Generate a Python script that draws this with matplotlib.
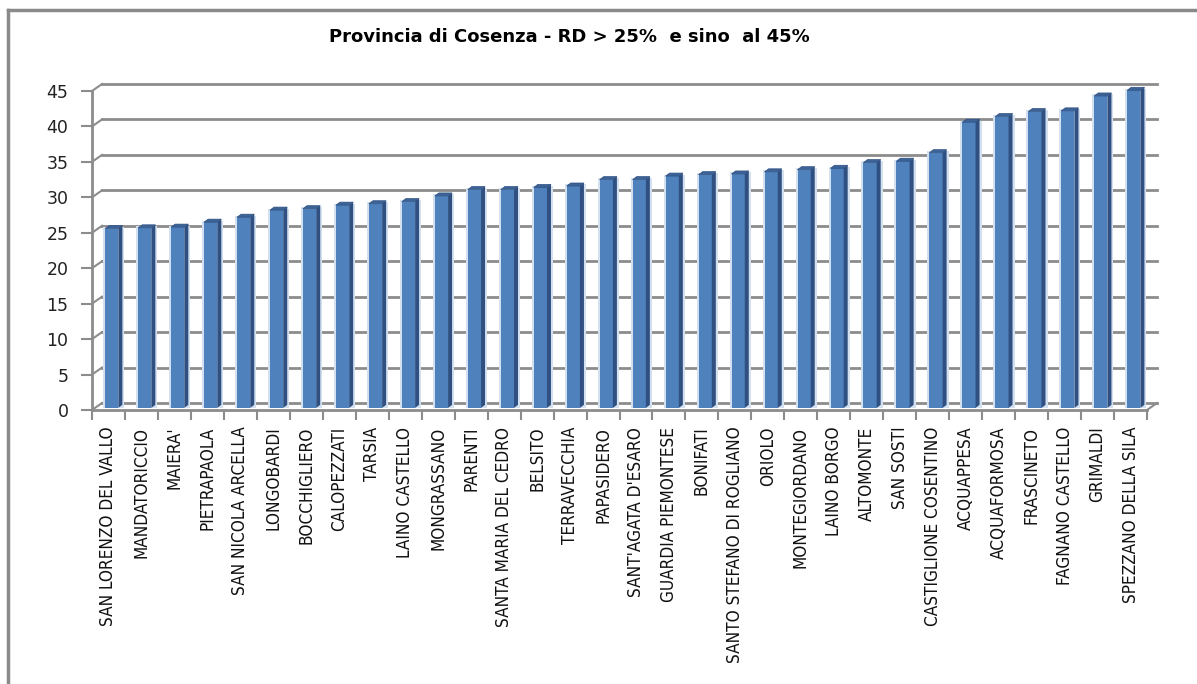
import matplotlib
matplotlib.use("Agg")
import matplotlib.pyplot as plt
from matplotlib import font_manager
from matplotlib.collections import PolyCollection
from matplotlib.lines import Line2D
import numpy as np

comuni = ["SAN LORENZO DEL VALLO", "MANDATORICCIO", "MAIERA'", "PIETRAPAOLA",
          "SAN NICOLA ARCELLA", "LONGOBARDI", "BOCCHIGLIERO", "CALOPEZZATI",
          "TARSIA", "LAINO CASTELLO", "MONGRASSANO", "PARENTI",
          "SANTA MARIA DEL CEDRO", "BELSITO", "TERRAVECCHIA", "PAPASIDERO",
          "SANT'AGATA D'ESARO", "GUARDIA PIEMONTESE", "BONIFATI",
          "SANTO STEFANO DI ROGLIANO", "ORIOLO", "MONTEGIORDANO", "LAINO BORGO",
          "ALTOMONTE", "SAN SOSTI", "CASTIGLIONE COSENTINO", "ACQUAPPESA",
          "ACQUAFORMOSA", "FRASCINETO", "FAGNANO CASTELLO", "GRIMALDI",
          "SPEZZANO DELLA SILA"]
rd = [25.3, 25.4, 25.5, 26.2, 26.9, 27.9, 28.1, 28.6, 28.8, 29.1, 29.9, 30.8,
      30.8, 31.1, 31.3, 32.2, 32.2, 32.7, 32.9, 33.0, 33.3, 33.6, 33.8, 34.6,
      34.8, 36.0, 40.3, 41.1, 41.8, 41.9, 44.0, 44.8]
yticks = [0, 5, 10, 15, 20, 25, 30, 35, 40, 45]
title = "Provincia di Cosenza - RD > 25%  e sino  al 45%"

fl = font_manager.fontManager.ttflist
avail = {f.name for f in fl}
cond = any(f.name == "DejaVu Sans" and f.stretch == "condensed" for f in fl)
if "Liberation Sans Narrow" in avail:
    lab_kw = dict(family="Liberation Sans Narrow", fontsize=13)
elif cond:
    lab_kw = dict(family="DejaVu Sans", stretch="condensed", fontsize=12.3)
else:
    lab_kw = dict(family="DejaVu Sans", fontsize=11.3)

W, H = 1197, 684
fig = plt.figure(figsize=(W / 100, H / 100), dpi=100)
fig.patch.set_facecolor("white")

# front plane of the axes (pixels)
L, R, B, T = 92, 1147, 410, 91
ax = fig.add_axes([L / W, 1 - B / H, (R - L) / W, (B - T) / H])
n = len(rd)
ax.set_xlim(-0.5, n - 0.5)
ax.set_ylim(0, 45)
ax.set_facecolor("none")

px_x = (R - L) / n          # px per category
px_y = (B - T) / 45.0       # px per unit
dX = 10 / px_x              # wall depth in data units
dY = 7 / px_y

grid_c = "#8c8c8c"
for yv in yticks:
    ax.plot([-0.5 + dX, n - 0.5 + dX], [yv + dY, yv + dY], color=grid_c, lw=2,
            clip_on=False, zorder=1)
    ax.plot([-0.5, -0.5 + dX], [yv, yv + dY], color=grid_c, lw=1.5,
            clip_on=False, zorder=1)
ax.plot([n - 0.5, n - 0.5 + dX], [0, dY], color=grid_c, lw=1.5, clip_on=False, zorder=1)

# bars with pseudo-3D faces
x = np.arange(n)
w = 0.4
off_x = 0.1
base = 0.3
sx, sy = 4 / px_x, 3 / px_y
vals = np.array(rd)
xc = x + off_x
ax.bar(xc + sx / 2, vals + sy / 2, width=w + 2 * sx, bottom=base, color="#d3e0f0",
       zorder=2, clip_on=False)
ax.bar(xc, vals, width=w, bottom=base, color="#4f81bd", zorder=3, clip_on=False)
side = [[(xi + w / 2, base), (xi + w / 2 + sx, base + sy), (xi + w / 2 + sx, base + v + sy),
         (xi + w / 2, base + v)] for xi, v in zip(xc, vals)]
top = [[(xi - w / 2, base + v), (xi + w / 2, base + v), (xi + w / 2 + sx, base + v + sy),
        (xi - w / 2 + sx, base + v + sy)] for xi, v in zip(xc, vals)]
ax.add_collection(PolyCollection(side, facecolors="#2f5080", edgecolors="none", zorder=3,
                                 clip_on=False))
ax.add_collection(PolyCollection(top, facecolors="#3c6398", edgecolors="#2f5080",
                                 linewidths=0.5, zorder=4, clip_on=False))

for s in ["top", "right"]:
    ax.spines[s].set_visible(False)
for s in ["left", "bottom"]:
    ax.spines[s].set_color(grid_c)
    ax.spines[s].set_linewidth(2)
    ax.spines[s].set_zorder(5)

ax.set_yticks(yticks)
ax.set_yticklabels([str(v) for v in yticks], fontsize=12.5, family="DejaVu Sans", color="#222222")
ax.tick_params(axis="y", length=8, width=1.5, color=grid_c, pad=9)

ax.set_xticks(x)
ax.set_xticklabels(comuni, rotation=90, color="#111111", va="top", ha="center", **lab_kw)
ax.tick_params(axis="x", which="major", length=0, pad=12)
ax.set_xticks(np.arange(n + 1) - 0.5, minor=True)
ax.tick_params(axis="x", which="minor", length=7, width=1.5, color=grid_c)

fig.text(569 / W, 1 - 37 / H, title, ha="center", va="center", fontsize=13,
         fontweight="bold", family="DejaVu Sans", color="#000000")

fig.add_artist(Line2D([8 / W, 8 / W], [0, 1 - 10 / H], color="#8a8a8a", lw=2.5,
                      transform=fig.transFigure))
fig.add_artist(Line2D([8 / W, 1], [1 - 10 / H, 1 - 10 / H], color="#8a8a8a", lw=2.5,
                      transform=fig.transFigure))

fig.savefig("out.png", dpi=100, facecolor="white")
